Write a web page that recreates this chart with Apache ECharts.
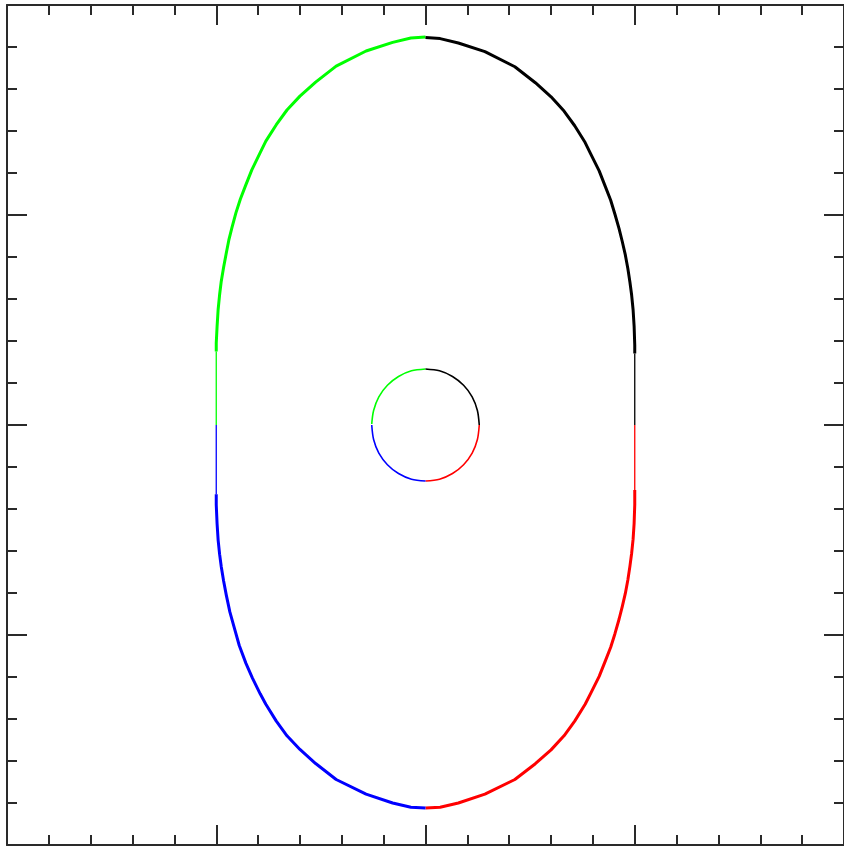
<!DOCTYPE html>
<html>
<head>
<meta charset="utf-8">
<script src="https://cdn.jsdelivr.net/npm/echarts@6/dist/echarts.min.js"></script>
<style>
html,body{margin:0;padding:0;background:#fff;}
#chart{width:844px;height:848px;}
</style>
</head>
<body>
<div id="chart"></div>
<script>
// Outer curve, thick parts
var outerUpperRight = [[0,1.845],[0.07,1.84],[0.157,1.819],[0.284,1.778],[0.427,1.706],[0.525,1.63],[0.6,1.563],[0.662,1.495],[0.713,1.425],[0.763,1.345],[0.79,1.29],[0.83,1.21],[0.86,1.134],[0.885,1.07],[0.905,1.005],[0.925,0.935],[0.94,0.875],[0.955,0.81],[0.967,0.745],[0.977,0.68],[0.985,0.62],[0.992,0.55],[0.997,0.47],[1.0,0.38],[1.0,0.34]];
var outerUpperLeft = [[0,1.848],[-0.07,1.843],[-0.157,1.822],[-0.284,1.781],[-0.427,1.709],[-0.525,1.633],[-0.6,1.566],[-0.662,1.5],[-0.713,1.43],[-0.763,1.352],[-0.79,1.297],[-0.83,1.215],[-0.86,1.14],[-0.885,1.075],[-0.906,1.01],[-0.925,0.94],[-0.94,0.88],[-0.952,0.819],[-0.965,0.75],[-0.976,0.685],[-0.984,0.62],[-0.991,0.55],[-0.996,0.47],[-1.0,0.39],[-1.0,0.35]];
var outerLowerLeft = [[-1.0,-0.33],[-1.0,-0.38],[-0.996,-0.47],[-0.991,-0.548],[-0.984,-0.615],[-0.976,-0.675],[-0.965,-0.742],[-0.952,-0.81],[-0.935,-0.89],[-0.914,-0.965],[-0.89,-1.05],[-0.858,-1.135],[-0.827,-1.205],[-0.79,-1.28],[-0.763,-1.33],[-0.713,-1.41],[-0.662,-1.48],[-0.6,-1.545],[-0.525,-1.612],[-0.427,-1.688],[-0.284,-1.758],[-0.157,-1.8],[-0.07,-1.82],[0,-1.824]];
var outerLowerRight = [[1.0,-0.31],[1.0,-0.38],[0.997,-0.468],[0.992,-0.545],[0.985,-0.612],[0.977,-0.672],[0.967,-0.738],[0.955,-0.802],[0.94,-0.866],[0.925,-0.925],[0.905,-0.995],[0.885,-1.058],[0.86,-1.122],[0.83,-1.197],[0.79,-1.277],[0.763,-1.33],[0.713,-1.41],[0.662,-1.48],[0.6,-1.547],[0.525,-1.613],[0.427,-1.688],[0.284,-1.758],[0.157,-1.8],[0.07,-1.82],[0,-1.824]];
// Outer curve, thin straight parts
var thinRight = [[1.0,0.34],[1.0,0]];
var thinRightLow = [[1.0,0],[1.0,-0.31]];
var thinLeft = [[-1.0,0.35],[-1.0,0]];
var thinLeftLow = [[-1.0,0],[-1.0,-0.33]];
// Inner circle
var innerUpperRight = [[0,0.267],[0.067,0.258],[0.129,0.231],[0.182,0.189],[0.223,0.134],[0.248,0.069],[0.257,0]];
var innerUpperLeft = [[0,0.267],[-0.067,0.258],[-0.129,0.231],[-0.182,0.189],[-0.223,0.134],[-0.248,0.069],[-0.257,0.005]];
var innerLowerLeft = [[-0.257,0],[-0.248,-0.069],[-0.223,-0.134],[-0.182,-0.189],[-0.129,-0.231],[-0.067,-0.258],[0,-0.267]];
var innerLowerRight = [[0.257,0],[0.248,-0.069],[0.223,-0.134],[0.182,-0.189],[0.129,-0.231],[0.067,-0.258],[0,-0.267]];

var GREEN = '#00ff00', BLACK = '#000000', RED = '#ff0000', BLUE = '#0000ff';

function ln(data, color, width, smooth) {
  return {type:'line', data:data, showSymbol:false, symbol:'none', smooth:smooth,
    lineStyle:{color:color, width:width, join:'round', cap:'butt'}, z:3};
}

function axisCommon(pos) {
  return {
    type:'value', min:-2, max:2, interval:1, position:pos,
    axisLine:{show:true, onZero:false, lineStyle:{color:'#2a2a2a', width:2}},
    axisTick:{show:true, inside:true, length:20, lineStyle:{color:'#2a2a2a', width:2}},
    minorTick:{show:true, splitNumber:5, length:10, lineStyle:{color:'#2a2a2a', width:2}},
    axisLabel:{show:false}, splitLine:{show:false}, minorSplitLine:{show:false}
  };
}

var chart = echarts.init(document.getElementById('chart'));
chart.setOption({
  animation:false,
  backgroundColor:'#fff',
  grid:{left:7, top:5, width:840, height:840},
  xAxis:[axisCommon('bottom'), axisCommon('top')],
  yAxis:[axisCommon('left'), axisCommon('right')],
  series:[
    ln(outerUpperLeft, GREEN, 3, false),
    ln(outerUpperRight, BLACK, 3, false),
    ln(outerLowerRight, RED, 3, false),
    ln(outerLowerLeft, BLUE, 3, false),
    ln(thinLeft, GREEN, 1.3, false),
    ln(thinRight, BLACK, 1.3, false),
    ln(thinRightLow, RED, 1.3, false),
    ln(thinLeftLow, BLUE, 1.3, false),
    ln(innerUpperLeft, GREEN, 1.6, 0.3),
    ln(innerUpperRight, BLACK, 1.6, 0.3),
    ln(innerLowerRight, RED, 1.6, 0.3),
    ln(innerLowerLeft, BLUE, 1.6, 0.3)
  ]
});
</script>
</body>
</html>
